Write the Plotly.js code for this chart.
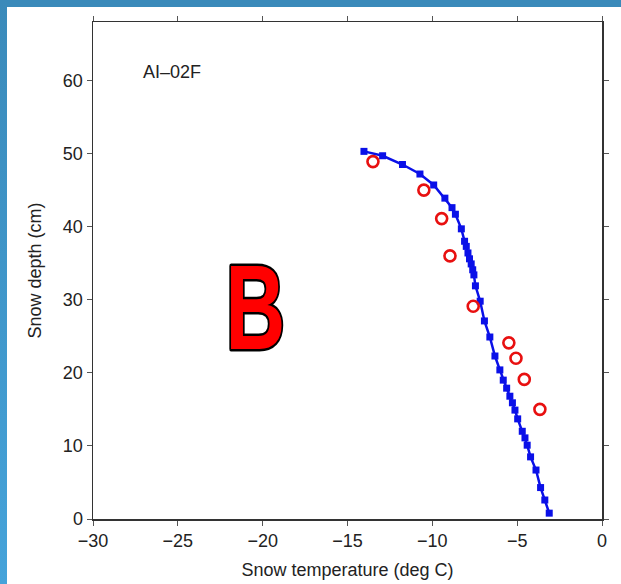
<!DOCTYPE html>
<html>
<head>
<meta charset="utf-8">
<script src="https://cdn.plot.ly/plotly-3.0.1.min.js"></script>
<style>
  html, body { margin: 0; padding: 0; background: #ffffff; }
  #wrap { position: relative; width: 621px; height: 584px; overflow: hidden; background: #ffffff; }
  #topbar { position: absolute; left: 0; top: 0; width: 621px; height: 7px; background: #3a8aba; z-index: 2; }
  #leftbar { position: absolute; left: 0; top: 0; width: 7px; height: 584px; background: linear-gradient(#3a8aba, #45a3da); z-index: 2; }
  #chart { position: absolute; left: 0; top: 0; width: 621px; height: 584px; z-index: 1; }
  g.annotation[data-index="1"] text {
    stroke: #000000; stroke-width: 5px; paint-order: stroke fill; stroke-linejoin: round;
    transform-box: fill-box; transform-origin: center; transform: scaleX(0.69);
  }
</style>
</head>
<body>
<div id="wrap">
  <div id="chart"></div>
  <div id="topbar"></div>
  <div id="leftbar"></div>
</div>
<script>
// Modelled temperature profile (blue squares + line)
const modelTemp = [-14.03, -12.93, -11.76, -10.73, -9.92, -9.26, -8.84, -8.64, -8.29, -8.10, -8.00, -7.90, -7.81, -7.71, -7.62, -7.55, -7.46, -7.18, -6.93, -6.61, -6.31, -6.02, -5.82, -5.62, -5.43, -5.28, -5.13, -4.97, -4.70, -4.54, -4.41, -4.21, -3.89, -3.62, -3.37, -3.11];
const modelDepth = [50.3, 49.7, 48.5, 47.2, 45.7, 43.9, 42.6, 41.7, 39.7, 38.0, 37.3, 36.4, 35.6, 34.9, 34.1, 33.4, 31.9, 29.8, 27.1, 24.9, 22.3, 20.4, 19.0, 17.9, 16.8, 15.9, 14.9, 13.7, 12.0, 11.1, 10.1, 8.5, 6.7, 4.3, 2.6, 0.8];

// Observed temperatures (red open circles)
const obsTemp = [-13.5, -10.5, -9.45, -8.96, -7.59, -5.49, -5.07, -4.58, -3.66];
const obsDepth = [48.9, 45.0, 41.1, 36.0, 29.1, 24.1, 22.0, 19.1, 15.0];

const xTicks = [-30, -25, -20, -15, -10, -5, 0];
const yTicks = [0, 10, 20, 30, 40, 50, 60];

const siteLabel = "AI\u201302F";
const panelLabel = "B";
const xTitle = "Snow temperature (deg C)";
const yTitle = "Snow depth (cm)";

const font = "Liberation Sans, Arial, Helvetica, sans-serif";

const traces = [
  {
    x: modelTemp, y: modelDepth, type: "scatter", mode: "lines+markers",
    line: { color: "#0a10e8", width: 2.5 },
    marker: { symbol: "square", size: 7, color: "#0a10e8" },
    showlegend: false, hoverinfo: "skip"
  },
  {
    x: obsTemp, y: obsDepth, type: "scatter", mode: "markers",
    marker: { symbol: "circle-open", size: 11, color: "#e81010", line: { width: 2.6, color: "#e81010" } },
    showlegend: false, hoverinfo: "skip"
  }
];

const axisCommon = {
  showgrid: false, zeroline: false, showline: true, linecolor: "#333333", linewidth: 1.5,
  mirror: "allticks", ticks: "outside", ticklen: 5, tickwidth: 1, tickcolor: "#555555",
  tickfont: { family: font, size: 18, color: "#222222" }
};

const layout = {
  width: 621, height: 584,
  margin: { l: 93, r: 19, t: 22, b: 65 },
  paper_bgcolor: "rgba(0,0,0,0)", plot_bgcolor: "#ffffff",
  xaxis: Object.assign({}, axisCommon, {
    range: [-30, 0], tickvals: xTicks,
    title: { text: xTitle, font: { family: font, size: 18, color: "#222222" }, standoff: 13 }
  }),
  yaxis: Object.assign({}, axisCommon, {
    range: [0, 68], tickvals: yTicks,
    title: { text: yTitle, font: { family: font, size: 18, color: "#222222" }, standoff: 16 }
  }),
  annotations: [
    { x: -25.35, y: 61.1, xref: "x", yref: "y", text: siteLabel, showarrow: false,
      font: { family: font, size: 18, color: "#222222" } },
    { x: -20.45, y: 29.0, xref: "x", yref: "y", text: panelLabel, showarrow: false,
      font: { family: "Liberation Sans, Arial, sans-serif", size: 120, color: "#ff0000", weight: 700 } }
  ]
};

Plotly.newPlot("chart", traces, layout, { displayModeBar: false, staticPlot: true });
</script>
</body>
</html>
